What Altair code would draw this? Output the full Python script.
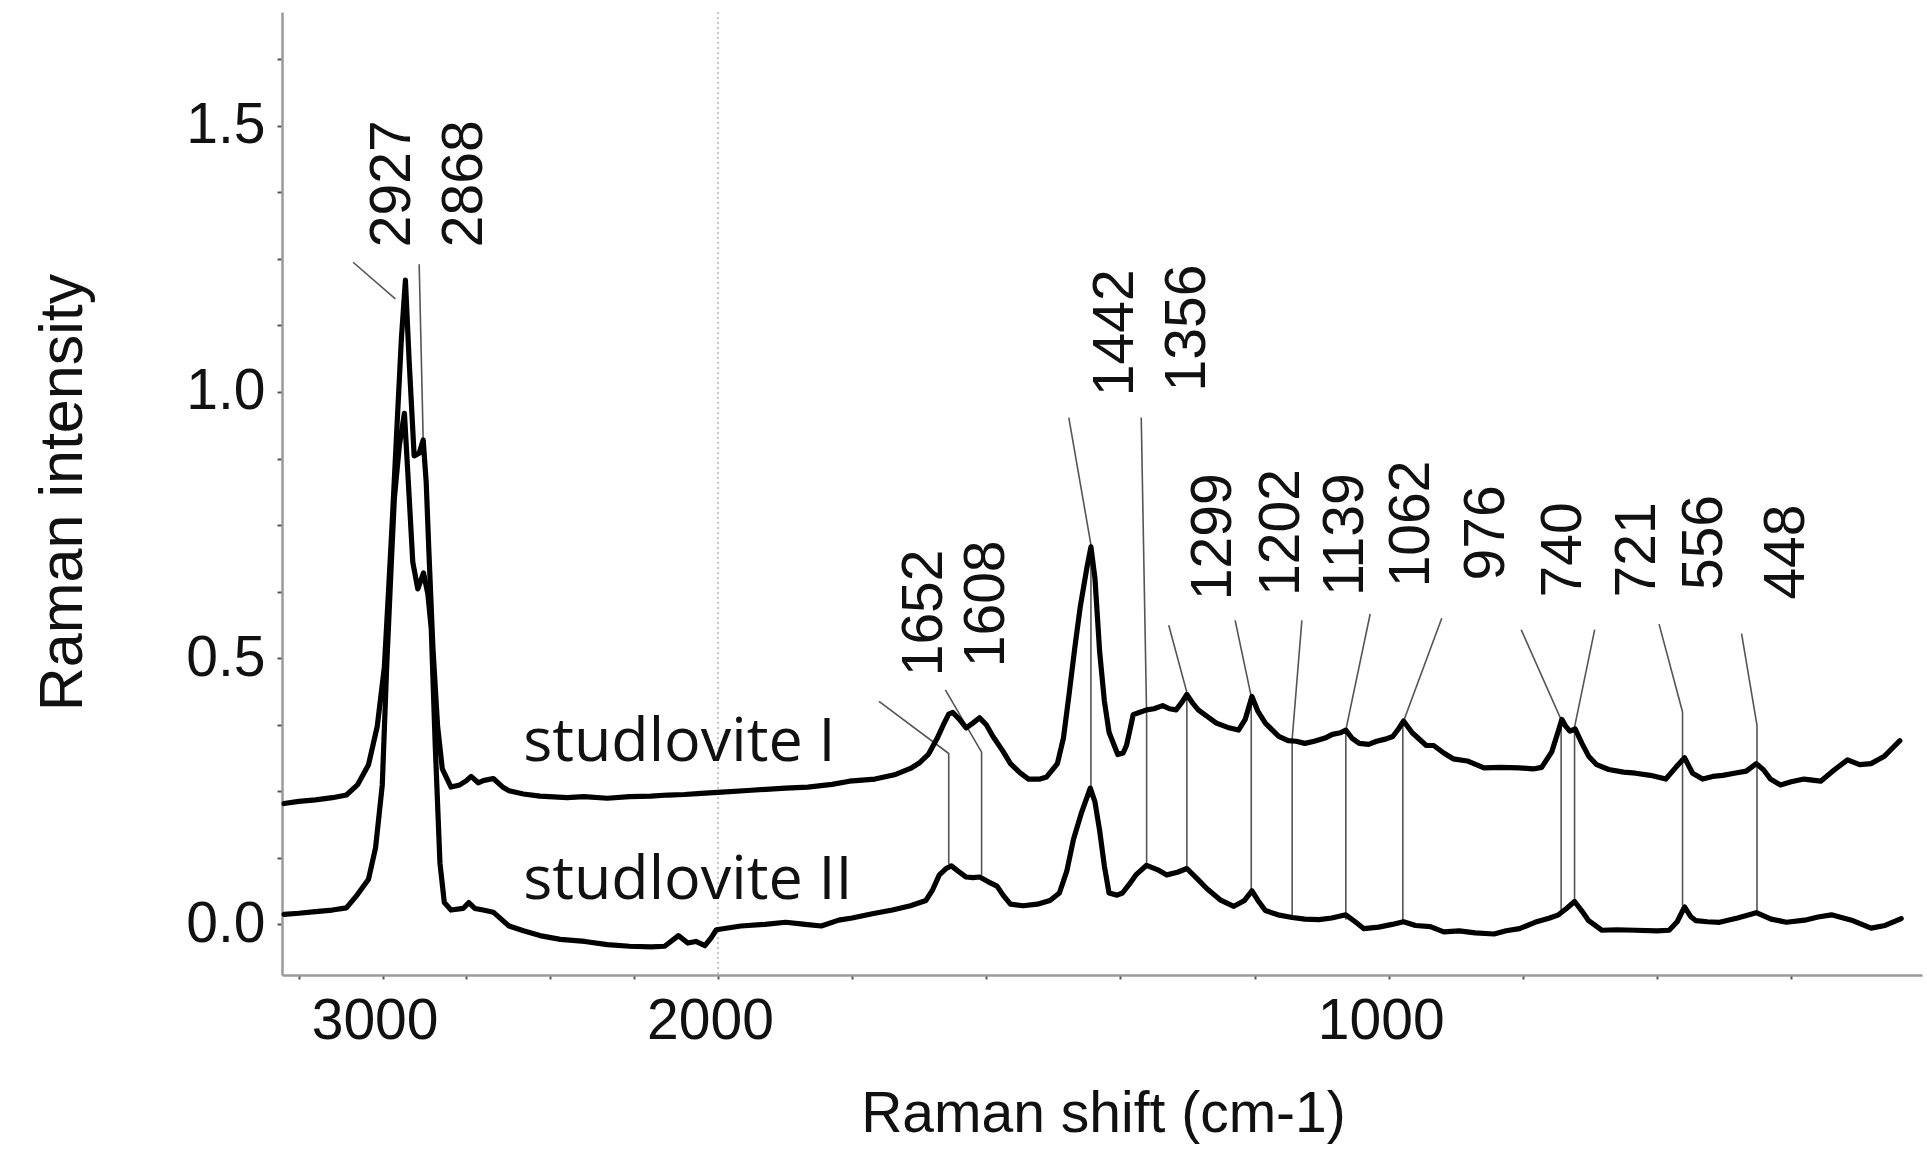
import altair as alt
import pandas as pd

# ---------------- data ----------------
# spectrum "studlovite I" (upper trace)
wn_I = [3294, 3250, 3200, 3150, 3108, 3075, 3042, 3016, 2995, 2982, 2971, 2956, 2944, 2932,
        2921, 2906, 2891, 2879, 2870, 2862, 2850, 2836, 2822, 2796, 2770, 2750, 2736, 2715,
        2700, 2670, 2640, 2623, 2580, 2531, 2450, 2400, 2330, 2264, 2200, 2150, 2100, 2050,
        2000, 1950, 1899, 1866, 1830, 1804, 1766, 1737, 1713, 1700, 1686, 1673, 1664, 1656,
        1650, 1640, 1630, 1620, 1610, 1600, 1590, 1575, 1564, 1550, 1537, 1520, 1510, 1494,
        1485, 1477, 1468, 1460, 1450, 1444, 1438, 1431, 1424, 1417, 1404, 1396, 1391, 1385,
        1381, 1372, 1361, 1350, 1337, 1327, 1317, 1308, 1301, 1292, 1284, 1270, 1257, 1240,
        1224, 1214, 1204, 1195, 1184, 1164, 1150, 1138, 1125, 1111, 1095, 1084, 1072, 1064,
        1055, 1044, 1030, 1018, 1005, 994, 985, 978, 965, 944, 933, 918, 904, 883, 858, 833,
        805, 785, 772, 757, 748, 742, 736, 730, 722, 712, 702, 690, 672, 650, 632, 610, 587,
        572, 559, 547, 532, 517, 502, 485, 467, 452, 441, 431, 416, 400, 381, 356, 336, 316,
        298, 281, 261, 250, 238]
int_I = [0.227, 0.231, 0.234, 0.238, 0.243, 0.262, 0.300, 0.372, 0.482, 0.630, 0.760, 0.950,
         1.100, 1.210, 1.060, 0.880, 0.885, 0.910, 0.830, 0.700, 0.520, 0.372, 0.292, 0.258,
         0.262, 0.270, 0.278, 0.266, 0.270, 0.274, 0.257, 0.251, 0.245, 0.241, 0.238, 0.240,
         0.237, 0.240, 0.241, 0.243, 0.244, 0.246, 0.248, 0.252, 0.256, 0.258, 0.263, 0.269,
         0.273, 0.281, 0.293, 0.303, 0.320, 0.350, 0.375, 0.395, 0.398, 0.385, 0.369, 0.378,
         0.388, 0.375, 0.353, 0.325, 0.302, 0.285, 0.273, 0.273, 0.277, 0.302, 0.350, 0.428,
         0.520, 0.596, 0.670, 0.709, 0.650, 0.512, 0.420, 0.361, 0.319, 0.322, 0.336, 0.370,
         0.394, 0.398, 0.403, 0.405, 0.411, 0.405, 0.403, 0.418, 0.432, 0.415, 0.403, 0.390,
         0.378, 0.370, 0.365, 0.385, 0.428, 0.400, 0.378, 0.353, 0.345, 0.344, 0.340, 0.344,
         0.350, 0.357, 0.360, 0.365, 0.350, 0.340, 0.338, 0.344, 0.348, 0.353, 0.368, 0.382,
         0.360, 0.336, 0.336, 0.322, 0.311, 0.307, 0.294, 0.295, 0.294, 0.292, 0.295, 0.324,
         0.360, 0.385, 0.372, 0.363, 0.367, 0.340, 0.316, 0.300, 0.291, 0.286, 0.284, 0.280,
         0.273, 0.295, 0.313, 0.284, 0.273, 0.278, 0.280, 0.284, 0.288, 0.302, 0.290, 0.273,
         0.262, 0.268, 0.273, 0.269, 0.290, 0.309, 0.300, 0.302, 0.316, 0.330, 0.345]

# spectrum "studlovite II" (lower trace)
wn_II = [3294, 3250, 3200, 3150, 3108, 3075, 3042, 3021, 3001, 2988, 2975, 2965, 2950, 2935,
         2925, 2910, 2895, 2878, 2865, 2855, 2843, 2829, 2816, 2796, 2760, 2743, 2725, 2700,
         2670, 2623, 2580, 2531, 2470, 2397, 2330, 2264, 2200, 2159, 2118, 2090, 2066, 2039,
         2020, 2005, 1966, 1930, 1899, 1870, 1846, 1820, 1800, 1770, 1740, 1713, 1690, 1680,
         1670, 1660, 1652, 1640, 1630, 1620, 1610, 1597, 1584, 1575, 1564, 1545, 1524, 1505,
         1491, 1480, 1470, 1458, 1445, 1438, 1431, 1424, 1417, 1405, 1397, 1387, 1377, 1361,
         1345, 1331, 1315, 1301, 1285, 1271, 1250, 1231, 1215, 1204, 1195, 1184, 1165, 1144,
         1125, 1104, 1085, 1064, 1050, 1037, 1015, 995, 978, 960, 938, 918, 895, 871, 843,
         825, 805, 782, 760, 747, 735, 723, 712, 702, 682, 660, 632, 600, 582, 570, 559, 550,
         542, 525, 507, 480, 452, 430, 407, 380, 360, 340, 310, 281, 260, 236]
int_II = [0.019, 0.021, 0.024, 0.027, 0.031, 0.056, 0.085, 0.144, 0.262, 0.482, 0.666, 0.800,
          0.900, 0.960, 0.850, 0.680, 0.630, 0.660, 0.620, 0.556, 0.335, 0.115, 0.041, 0.027,
          0.030, 0.041, 0.030, 0.027, 0.023, -0.003, -0.012, -0.021, -0.028, -0.032, -0.038,
          -0.041, -0.042, -0.041, -0.021, -0.035, -0.032, -0.040, -0.025, -0.010, -0.003,
          0.000, 0.004, 0.000, -0.003, 0.008, 0.012, 0.020, 0.027, 0.035, 0.045, 0.065, 0.093,
          0.105, 0.110, 0.098, 0.089, 0.088, 0.089, 0.080, 0.072, 0.055, 0.038, 0.035, 0.038,
          0.045, 0.059, 0.100, 0.160, 0.210, 0.256, 0.230, 0.176, 0.110, 0.059, 0.055, 0.059,
          0.075, 0.093, 0.111, 0.103, 0.093, 0.098, 0.105, 0.085, 0.067, 0.045, 0.034, 0.045,
          0.063, 0.045, 0.026, 0.018, 0.013, 0.010, 0.009, 0.012, 0.018, 0.005, -0.008, -0.005,
          0.000, 0.005, -0.002, -0.004, -0.014, -0.012, -0.016, -0.018, -0.012, -0.008, 0.004,
          0.012, 0.018, 0.030, 0.043, 0.025, 0.007, -0.011, -0.010, -0.011, -0.012, -0.011,
          0.005, 0.033, 0.015, 0.007, 0.005, 0.004, 0.012, 0.022, 0.010, 0.004, 0.008, 0.014,
          0.018, 0.008, -0.007, -0.002, 0.011]

series_names = ["studlovite I", "studlovite II"]
series_label_wn = [2581, 2581]
series_label_int = [0.306, 0.0485]

# peak annotations
peak_labels = ["2927", "2868", "1652", "1608", "1442", "1356", "1299", "1202", "1139",
               "1062", "976", "740", "721", "556", "448"]
peak_text_wn = [2968, 2753, 1692, 1599, 1407, 1299, 1260, 1159, 1063, 966, 853, 739, 628, 528, 407]
peak_text_int = [1.272, 1.272, 0.466, 0.483, 0.992, 1.001, 0.609, 0.617, 0.617, 0.633, 0.646,
                 0.614, 0.614, 0.628, 0.610]
leader_top_wn = [3088, 2891, 1760, 1661, 1477, 1369, 1328, 1229, 1129.5, 1027.7, 921, 802.5,
                 693, 597, 474]
leader_top_int = [1.2436, 1.240, 0.419, 0.4406, 0.952, 0.952, 0.562, 0.571, 0.571, 0.583,
                  0.575, 0.5535, 0.5535, 0.564, 0.546]
leader_knee_wn = [2962, 2879, 1656, 1607, 1444, 1361, 1301, 1205, 1144, 1064, 979, 743, 723,
                  562, 451]
leader_knee_int = [1.175, 0.910, 0.321, 0.3236, 0.713, 0.394, 0.436, 0.428, 0.348, 0.365,
                   0.378, 0.3845, 0.3706, 0.399, 0.374]
leader_bottom_int = [1.175, 0.910, 0.113, 0.0926, 0.260, 0.1136, 0.1057, 0.063, 0.0175, 0.009,
                     0.0043, 0.0216, 0.0432, 0.036, 0.0216]

# axis ticks (wavenumbers / intensities)
x_tick_wn = [3250, 3000, 2750, 2500, 2250, 2000, 1800, 1600, 1400, 1200, 1000, 800, 600, 400]
x_tick_labels = [3000, 2000, 1000]
y_ticks = [0.0, 0.125, 0.25, 0.375, 0.5, 0.625, 0.75, 0.875, 1.0, 1.125, 1.25, 1.375, 1.5, 1.625]
x_range_wn = [3300, 205]
y_range = [-0.095, 1.7136]

# ---------------- broken (two-scale) wavenumber axis ----------------
BREAK = 2000
FACTOR = 2


def to_disp(v):
    return BREAK + (v - BREAK) / FACTOR if v > BREAK else v


CALC = f"datum.wn > {BREAK} ? {BREAK} + (datum.wn - {BREAK}) / {FACTOR} : datum.wn"

FONT = "'Liberation Sans', Arial, sans-serif"

x_label_expr = " : ".join(
    [f"datum.value == {to_disp(v)} ? '{v}'" for v in x_tick_labels]) + " : ''"

x_enc = alt.X(
    "xd:Q",
    scale=alt.Scale(domain=[to_disp(x_range_wn[0]), to_disp(x_range_wn[1])], nice=False, zero=False),
    axis=alt.Axis(
        values=[to_disp(v) for v in x_tick_wn],
        labelExpr=x_label_expr,
        title="Raman shift (cm-1)",
        titleFont=FONT, titleFontSize=57, titleFontWeight="normal", titleColor="#111",
        titleX=821, titleY=156, titleAlign="center", titleBaseline="alphabetic",
        labelFont=FONT, labelFontSize=57, labelColor="#111", labelPadding=14,
        labelOffset=-8,
        labelOverlap=False, labelFlush=False,
        tickSize=4, tickColor="#555", tickWidth=2,
        domainColor="#9a9a9a", domainWidth=2.5, grid=False,
    ),
)

y_label_expr = "abs(datum.value * 2 - round(datum.value * 2)) < 0.001 ? format(datum.value, '.1f') : ''"

y_enc = alt.Y(
    "val:Q",
    scale=alt.Scale(domain=y_range, nice=False, zero=False),
    axis=alt.Axis(
        values=y_ticks,
        labelExpr=y_label_expr,
        title="Raman intensity",
        titleFont=FONT, titleFontSize=61, titleFontWeight="normal", titleColor="#111",
        titleAngle=270, titleX=-219, titleY=480, titleAlign="center", titleBaseline="middle",
        labelFont=FONT, labelFontSize=57, labelColor="#111", labelPadding=12,
        labelOverlap=False, labelFlush=False,
        tickSize=5, tickColor="#555", tickWidth=2,
        domainColor="#9a9a9a", domainWidth=2.5, grid=False,
    ),
)

# ---------------- tables ----------------
spec_rows = []
for name, wns, vals in ((series_names[0], wn_I, int_I), (series_names[1], wn_II, int_II)):
    assert len(wns) == len(vals)
    for w, v in zip(wns, vals):
        spec_rows.append({"series": name, "wn": w, "val": v})
spec_df = pd.DataFrame(spec_rows)

leader_rows = []
for i, lab in enumerate(peak_labels):
    pts = [(leader_top_wn[i], leader_top_int[i]),
           (leader_knee_wn[i], leader_knee_int[i]),
           (leader_knee_wn[i], leader_bottom_int[i])]
    for k, (w, v) in enumerate(pts):
        leader_rows.append({"label": lab, "idx": k, "wn": w, "val": v})
leader_df = pd.DataFrame(leader_rows)

text_df = pd.DataFrame({"label": peak_labels, "wn": peak_text_wn, "val": peak_text_int})
name_df = pd.DataFrame({"name": series_names, "wn": series_label_wn, "val": series_label_int})
break_df = pd.DataFrame({"wn": [BREAK], "val": [0.0]})

# ---------------- layers ----------------
break_rule = alt.Chart(break_df).transform_calculate(xd=CALC).mark_rule(
    color="#b5b5b5", strokeWidth=1.5, strokeDash=[2, 3]
).encode(x=x_enc)

leaders = alt.Chart(leader_df).transform_calculate(xd=CALC).mark_line(
    color="#555", strokeWidth=1.6
).encode(x=x_enc, y=y_enc, detail="label:N", order="idx:Q")

spectra = alt.Chart(spec_df).transform_calculate(xd=CALC).mark_line(
    color="black", strokeWidth=5.2, strokeJoin="round", strokeCap="round"
).encode(x=x_enc, y=y_enc, detail="series:N", order=alt.Order("wn:Q", sort="descending"))

peak_text = alt.Chart(text_df).transform_calculate(xd=CALC).mark_text(
    angle=270, align="left", baseline="middle", font=FONT, fontSize=57, color="#111"
).encode(x=x_enc, y=y_enc, text="label:N")

names = alt.Chart(name_df).transform_calculate(xd=CALC).mark_text(
    align="left", baseline="alphabetic", font="Open Sans", fontSize=61, color="#111"
).encode(x=x_enc, y=y_enc, text="name:N")

chart = alt.layer(break_rule, leaders, spectra, peak_text, names).properties(
    width=1640,
    height=963,
    autosize=alt.AutoSizeParams(type="none"),
    padding={"left": 282, "top": 12, "right": 5, "bottom": 189},
    background="white",
).configure_view(stroke=None)

chart.save("out.html", embed_options={"renderer": "svg", "actions": False})
